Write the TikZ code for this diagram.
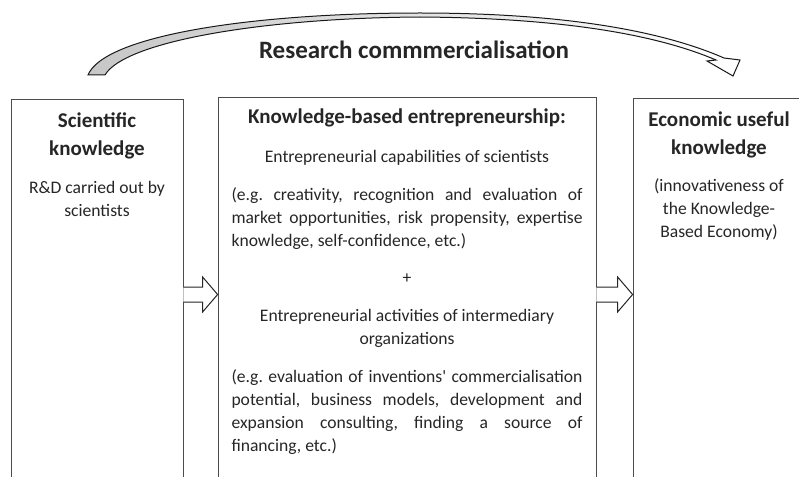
\documentclass[tikz,border=0pt]{standalone}
\usepackage{fontspec}
\setmainfont{Carlito}
\usetikzlibrary{calc}
\tikzset{
  colbox/.style={draw=black!70, line width=0.8pt, minimum width=172pt, minimum height=420pt, anchor=north, inner sep=0pt},
  midbox/.style={colbox, minimum width=378pt},
  headtxt/.style={font=\fontsize{21}{28}\selectfont\bfseries, text=black!85, align=center, anchor=base},
  bodytxt/.style={font=\fontsize{17.6}{23}\selectfont, text=black!85, align=center, anchor=base},
  justtxt/.style={bodytxt, text width=351pt, align=justify},
  blockarr/.style={draw=black!85, fill=white, line width=1pt, line join=miter},
  bigarrow/.style={draw=black!90, line width=1pt, left color=black!22, right color=white, shading angle=90}
}
% block arrow between two points at the same height
\newcommand\blockarrow[2]{%
  \coordinate (ba) at (#1);
  \coordinate (bb) at (#2);
  \draw[blockarr] ($(ba)+(0,-7.5)$) -- ($(bb)+(-15,-7.5)$) -- ($(bb)+(-15,-17.5)$) -- (bb)
    -- ($(bb)+(-15,17.5)$) -- ($(bb)+(-15,7.5)$) -- ($(ba)+(0,7.5)$);
}
\frenchspacing
\begin{document}
\begin{tikzpicture}[x=1pt, y=-1pt]
  \useasboundingbox (0,0) rectangle (799,476);
  \clip (0,0) rectangle (799,476);

  % the three columns
  \node[colbox] (sci) at (97,99) {};
  \node[midbox] (kbe) at (407,97) {};
  \node[colbox] (eco) at (719,98) {};

  % research commercialisation arrow
  \path[bigarrow] (88,75) .. controls (104,36) and (250,13) .. (420,13)
    .. controls (560,13) and (660,30) .. (724,58)
    -- (740,60) -- (733,76) -- (707,61) -- (716,60)
    .. controls (655,34) and (560,18) .. (420,17)
    .. controls (260,18) and (124,42) .. (105,75) -- cycle;
  \node[headtxt, font=\fontsize{25}{30}\selectfont\bfseries] (title) at (414,59) {Research commmercialisation};

  % left column (base = last line)
  \node[headtxt] (scihead) at (97,155) {Scientific\\knowledge};
  \node[bodytxt] (scibody) at (97,216) {R\&D carried out by\\scientists};

  % middle column
  \node[headtxt] (kbehead) at (407,123) {Knowledge-based entrepreneurship:};
  \node[bodytxt] (capab) at (407,162) {Entrepreneurial capabilities of scientists};
  \node[justtxt] (capabeg) at (407,200) {(e.g. creativity, recognition and evaluation of\linebreak
    market opportunities, risk propensity, expertise\linebreak
    knowledge, self-confidence, etc.)};
  \node[bodytxt] (plus) at (407,283) {+};
  \node[bodytxt] (activ) at (407,344) {Entrepreneurial activities of intermediary\\organizations};
  \node[justtxt] (activeg) at (407,382) {(e.g. evaluation of inventions\textquotesingle{} commercialisation\linebreak
    potential, business models, development and\linebreak
    expansion consulting, finding a source of\linebreak
    financing, etc.)};

  % right column
  \node[headtxt] (ecohead) at (719,154) {Economic useful\\knowledge};
  \node[bodytxt] (ecobody) at (719,237) {(innovativeness of\\the Knowledge-\\Based Economy)};

  % flow arrows
  \coordinate (ay) at (0,294.5);
  \blockarrow{sci.east |- ay}{kbe.west |- ay}
  \blockarrow{kbe.east |- ay}{eco.west |- ay}
\end{tikzpicture}
\end{document}
